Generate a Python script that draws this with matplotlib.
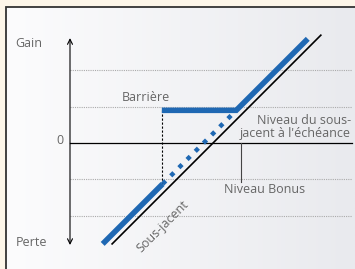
import numpy as np
import matplotlib
matplotlib.use("Agg")
import matplotlib.pyplot as plt
from matplotlib.colors import LinearSegmentedColormap

plt.rcParams['font.family'] = ['Open Sans', 'DejaVu Sans']

# niveaux de la grille (gain / perte)
grid_levels = [-2, -1, 1, 2]

# sous-jacent (ligne noire)
underlying_x = [1.16, 6.91]
underlying_y = [-2.78, 2.97]

# produit (ligne bleue)
low_x = [0.90, 2.55]
low_y = [-2.78, -1.13]
dotted_x = [2.55, 4.58]
dotted_y = [-1.13, 0.90]
barrier_x = [2.53, 4.58, 6.55]
barrier_y = [0.90, 0.90, 2.87]

barrier_level_x = 2.53
bonus_level_x = 4.70

blue = '#1f68b3'
txt = '#666666'

fig = plt.figure(figsize=(3.55, 2.69), dpi=100)
fig.patch.set_facecolor('#fdf6e9')
ax = fig.add_axes([0, 0, 1, 1])
ax.set_axis_off()

xmin, xmax = -70 / 36.3, 285 / 36.3
ymin, ymax = -126 / 36.3, 143 / 36.3

# fond du cadre (dégradé)
cmap = LinearSegmentedColormap.from_list('bg', ['#fcfcfd', '#e9eaee'])
grad = np.linspace(0, 1, 256).reshape(1, -1)
px0, py0 = -64 / 36.3, 136 / 36.3
ax.imshow(grad, cmap=cmap, extent=[px0, xmax, ymin, py0], aspect='auto', zorder=0)
ax.plot([px0, px0, xmax], [ymin, py0, py0], color='#333333', lw=1.3, zorder=1,
        solid_joinstyle='miter')

# grille
for g in grid_levels:
    ax.plot([0, 7.77], [g, g], color='#aaaaaa', lw=0.8, ls=(0, (1, 1)), zorder=2)

# axe des gains
ax.plot([0, 7.77], [0, 0], color='black', lw=0.9, zorder=3)
ax.annotate('', xy=(0, 2.89), xytext=(0, -2.81),
            arrowprops=dict(arrowstyle='<->', lw=0.8, color='black',
                            mutation_scale=9, shrinkA=0, shrinkB=0), zorder=3)

# repères barrière et bonus
ax.plot([barrier_level_x, barrier_level_x], [barrier_y[0], low_y[1]],
        color='black', lw=0.8, ls=(0, (2, 1.6)), zorder=3)
ax.plot([bonus_level_x, bonus_level_x], [0, -1.07], color='#444444', lw=0.8, zorder=3)

# lignes
ax.plot(underlying_x, underlying_y, color='black', lw=1.2, zorder=4)
ax.plot(low_x, low_y, color=blue, lw=4, solid_capstyle='butt', zorder=5)
ax.plot(dotted_x, dotted_y, color=blue, lw=3.2, ls=(0, (1, 1.6)), zorder=5)
ax.plot(barrier_x, barrier_y, color=blue, lw=4, solid_capstyle='butt',
        solid_joinstyle='miter', zorder=5)

# textes
ax.text(-1.13, 2.73, 'Gain', color=txt, fontsize=9, ha='center', va='center')
ax.text(-1.05, -2.75, 'Perte', color=txt, fontsize=9, ha='center', va='center')
ax.text(-0.19, 0.06, '0', color=txt, fontsize=9, ha='right', va='center')
ax.text(2.08, 1.24, 'Barrière', color=txt, fontsize=9, ha='center', va='center')
ax.text(7.74, 0.44, "Niveau du sous-\njacent à l'échéance", color=txt, fontsize=9,
        ha='right', va='center', linespacing=1.0)
ax.text(5.37, -1.29, 'Niveau Bonus', color=txt, fontsize=9, ha='center', va='center')
ax.text(2.56, -2.3, 'Sous-jacent', color=txt, fontsize=9, ha='center', va='center',
        rotation=45, rotation_mode='anchor')

ax.set_xlim(xmin, xmax)
ax.set_ylim(ymin, ymax)

fig.savefig('out.png', dpi=100, facecolor=fig.get_facecolor())
